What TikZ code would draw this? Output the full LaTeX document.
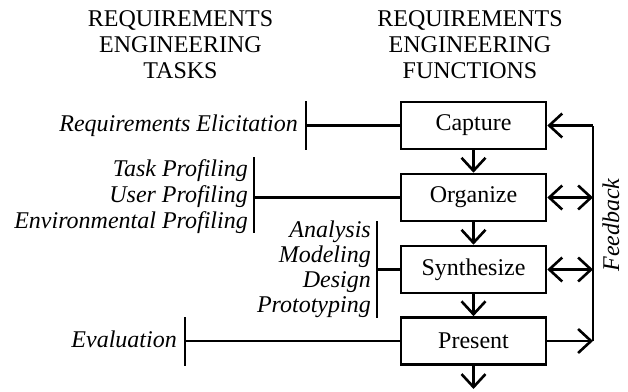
\documentclass[tikz,border=0pt]{standalone}
\usepackage{fontspec}
\setmainfont{Liberation Serif}
\usetikzlibrary{arrows.meta}
\tikzset{
  base/.style={font=\fontsize{24}{26}\selectfont},
  fbox/.style={base, draw, line width=2.6pt, minimum width=145pt, minimum height=47pt, inner sep=0pt},
  task/.style={base, font=\fontsize{24}{26}\selectfont\itshape, align=right, anchor=east, inner sep=0pt},
  head/.style={base, align=center, inner sep=0pt},
  ln/.style={line width=2.6pt},
  arr/.style={ln, -{Straight Barb[length=13pt,width=24pt]}},
  darr/.style={ln, {Straight Barb[length=13pt,width=24pt]}-{Straight Barb[length=13pt,width=24pt]}},
}
\begin{document}
\begin{tikzpicture}[x=1pt,y=-1pt]
\useasboundingbox (0,0) rectangle (628,391);
% headers
\node[head] (h1) at (180.5,45) {REQUIREMENTS\\ENGINEERING\\TASKS};
\node[head] (h2) at (470,45) {REQUIREMENTS\\ENGINEERING\\FUNCTIONS};
% function boxes
\node[fbox] (cap) at (473.5,125.5) {Capture};
\node[fbox] (org) at (473.5,197.5) {Organize};
\node[fbox] (syn) at (473.5,269.5) {Synthesize};
\node[fbox] (pre) at (473.5,341) {Present};
\coordinate (fbx) at (593,0);
\coordinate (out) at (473.5,389);
% vertical flow
\draw[arr] (cap) -- (org);
\draw[arr] (org) -- (syn);
\draw[arr] (syn) -- (pre);
\draw[arr] (pre) -- (out);
% feedback
\draw[ln] (pre.east -| fbx) -- (cap.east -| fbx);
\draw[arr] (cap.east -| fbx) -- (cap.east);
\draw[darr] (org.east) -- (org.east -| fbx);
\draw[darr] (syn.east) -- (syn.east -| fbx);
\draw[arr] (pre.east) -- (pre.east -| fbx);
\node[base, font=\fontsize{24}{26}\selectfont\itshape, rotate=90, inner sep=0pt] (fb) at (611,225) {Feedback};
% tasks
\node[task] (t1) at (298,126) {Requirements Elicitation};
\coordinate (b1t) at (306,101);
\coordinate (b1b) at (306,150);
\coordinate (b1m) at (306,125.5);
\draw[ln] (b1t) -- (b1b);
\draw[ln] (b1m) -- (cap);

\node[task] (t2) at (248,197) {Task Profiling\\User Profiling\\Environmental Profiling};
\coordinate (b2t) at (254,157);
\coordinate (b2b) at (254,233);
\coordinate (b2m) at (254,197.5);
\draw[ln] (b2t) -- (b2b);
\draw[ln] (b2m) -- (org);

\node[task, font=\fontsize{24}{25}\selectfont\itshape] (t3) at (371,269) {Analysis\\Modeling\\Design\\Prototyping};
\coordinate (b3t) at (377,221);
\coordinate (b3b) at (377,318);
\coordinate (b3m) at (377,269.5);
\draw[ln] (b3t) -- (b3b);
\draw[ln] (b3m) -- (syn);

\node[task] (t4) at (177,339) {Evaluation};
\coordinate (b4t) at (185,317);
\coordinate (b4b) at (185,366);
\coordinate (b4m) at (185,341);
\draw[ln] (b4t) -- (b4b);
\draw[ln] (b4m) -- (pre);
\end{tikzpicture}
\end{document}
